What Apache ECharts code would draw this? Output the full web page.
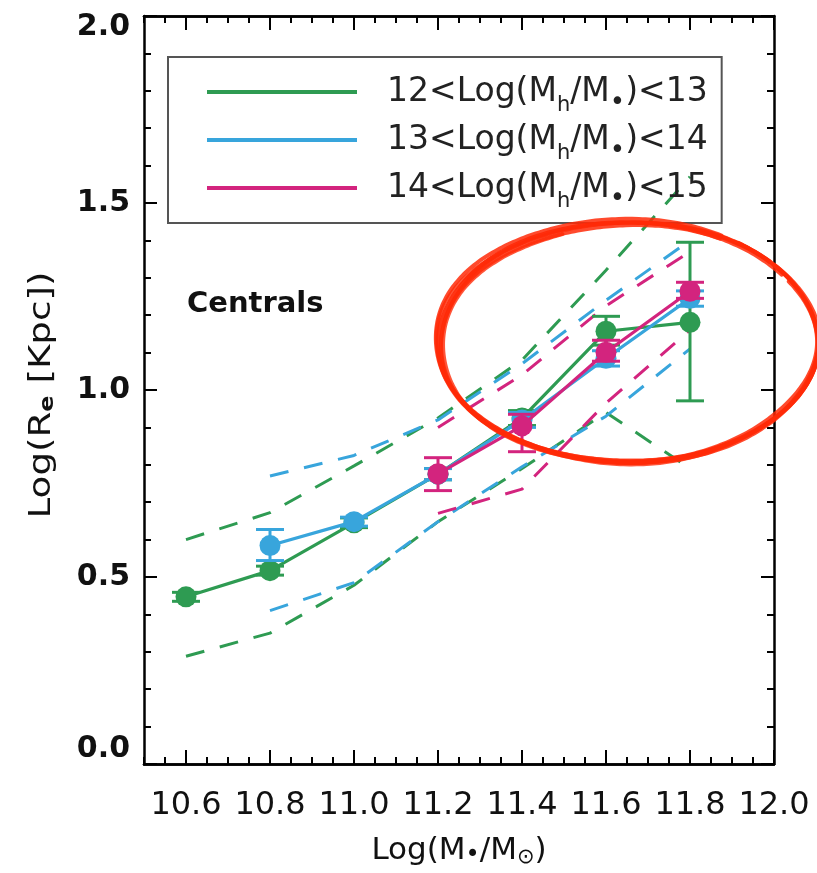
<!DOCTYPE html>
<html>
<head>
<meta charset="utf-8">
<script src="https://cdn.jsdelivr.net/npm/echarts@6/dist/echarts.min.js"></script>
<style>
  html, body { margin: 0; padding: 0; background: #ffffff; }
  #chart { width: 817px; height: 873px; }
</style>
</head>
<body>
<div id="chart"></div>
<script>
// Stellar-mass bins, Log(M*/Msun)
const massBins = [10.6, 10.8, 11.0, 11.2, 11.4, 11.6, 11.8];

// Axis tick labels
const xTickValues = [10.6, 10.8, 11.0, 11.2, 11.4, 11.6, 11.8, 12.0];
const yTickValues = [0.0, 0.5, 1.0, 1.5, 2.0];

// Halo-mass bin names
const groupNames = ['12<Log(Mh/M*)<13', '13<Log(Mh/M*)<14', '14<Log(Mh/M*)<15'];

// 12 < Log(Mh) < 13 : all seven mass bins
const greenMean    = [0.447, 0.517, 0.645, 0.775, 0.925, 1.157, 1.181];
const greenErrLow  = [0.435, 0.505, 0.632, 0.760, 0.905, 1.120, 0.971];
const greenErrHigh = [0.459, 0.529, 0.658, 0.790, 0.945, 1.197, 1.395];
const greenUpper   = [0.600, 0.672, 0.797, 0.925, 1.080, 1.320, 1.570];
const greenLower   = [0.288, 0.350, 0.478, 0.648, 0.790, 0.940, 0.790];

// 13 < Log(Mh) < 14 : bins 10.8 .. 11.8
const blueMean    = [0.584, 0.648, 0.775, 0.920, 1.085, 1.245];
const blueErrLow  = [0.544, 0.636, 0.760, 0.900, 1.064, 1.224];
const blueErrHigh = [0.627, 0.660, 0.790, 0.940, 1.105, 1.265];
const blueUpper   = [0.770, 0.825, 0.920, 1.070, 1.240, 1.400];
const blueLower   = [0.410, 0.485, 0.648, 0.795, 0.930, 1.110];

// 14 < Log(Mh) < 15 : bins 11.2 .. 11.8
const magMean    = [0.776, 0.904, 1.101, 1.264];
const magErrLow  = [0.731, 0.835, 1.077, 1.245];
const magErrHigh = [0.819, 0.935, 1.133, 1.288];
const magUpper   = [0.900, 1.040, 1.225, 1.370];
const magLower   = [0.670, 0.735, 0.965, 1.160];

const COLORS = ['#2e9b52', '#38a5dc', '#d3247e'];
const FONT = 'DejaVu Sans';

const chart = echarts.init(document.getElementById('chart'), null, { renderer: 'canvas' });

const pairs = (xs, ys) => xs.map((x, i) => [x, ys[i]]);

// minor x ticks every 0.05 between the labelled ones
const xMinorValues = [];
for (let i = 0; i <= 30; i++) {
  const v = Number((10.5 + i * 0.05).toFixed(2));
  if (!xTickValues.some(t => Math.abs(t - v) < 1e-6)) xMinorValues.push(v);
}

function meanSeries(name, xs, ys, color, z) {
  return {
    name, type: 'line', z, data: pairs(xs, ys), color,
    symbol: 'circle', symbolSize: 21, showSymbol: true,
    lineStyle: { color, width: 3.2 },
    itemStyle: { color },
    emphasis: { disabled: true }, animation: false
  };
}

function scatterBand(name, xs, ys, color, z) {
  return {
    name, type: 'line', z, data: pairs(xs, ys), color,
    symbol: 'none',
    lineStyle: { color, width: 3, type: [19, 16] },
    itemStyle: { color },
    emphasis: { disabled: true }, animation: false
  };
}

function errorBars(xs, lo, hi, color, z) {
  return {
    type: 'custom', z, silent: true, animation: false,
    data: xs.map((x, i) => [x, lo[i], hi[i]]),
    encode: { x: 0, y: [1, 2] },
    renderItem(params, api) {
      const x = api.value(0);
      const pLo = api.coord([x, api.value(1)]);
      const pHi = api.coord([x, api.value(2)]);
      const half = 14;
      const style = { stroke: color, lineWidth: 3 };
      return {
        type: 'group',
        children: [
          { type: 'line', shape: { x1: pLo[0], y1: pLo[1], x2: pHi[0], y2: pHi[1] }, style },
          { type: 'line', shape: { x1: pLo[0] - half, y1: pLo[1], x2: pLo[0] + half, y2: pLo[1] }, style },
          { type: 'line', shape: { x1: pHi[0] - half, y1: pHi[1], x2: pHi[0] + half, y2: pHi[1] }, style }
        ]
      };
    }
  };
}

const blueX = massBins.slice(1);
const magX = massBins.slice(3);

const series = [
  meanSeries(groupNames[0], massBins, greenMean, COLORS[0], 4),
  meanSeries(groupNames[1], blueX, blueMean, COLORS[1], 6),
  meanSeries(groupNames[2], magX, magMean, COLORS[2], 8),
  scatterBand(groupNames[0], massBins, greenUpper, COLORS[0], 2),
  scatterBand(groupNames[0], massBins, greenLower, COLORS[0], 2),
  scatterBand(groupNames[1], blueX, blueUpper, COLORS[1], 2),
  scatterBand(groupNames[1], blueX, blueLower, COLORS[1], 2),
  scatterBand(groupNames[2], magX, magUpper, COLORS[2], 2),
  scatterBand(groupNames[2], magX, magLower, COLORS[2], 2),
  errorBars(massBins, greenErrLow, greenErrHigh, COLORS[0], 3),
  errorBars(blueX, blueErrLow, blueErrHigh, COLORS[1], 5),
  errorBars(magX, magErrLow, magErrHigh, COLORS[2], 7)
];

const legendMarkup = {};
legendMarkup[groupNames[0]] = '12<Log(M{sub|h}/M{dot|•})<13';
legendMarkup[groupNames[1]] = '13<Log(M{sub|h}/M{dot|•})<14';
legendMarkup[groupNames[2]] = '14<Log(M{sub|h}/M{dot|•})<15';

const subStyle = { fontFamily: FONT, fontSize: 21, lineHeight: 12, verticalAlign: 'bottom', color: '#222' };
const dotStyle = { fontFamily: FONT, fontSize: 26, lineHeight: 14, verticalAlign: 'bottom', color: '#222' };

const axisLineStyle = { color: '#000', width: 2.5 };
const tickLineStyle = { color: '#000', width: 2 };

function xAxisDef(position, values, len, withLabels) {
  const ax = {
    type: 'value', position, min: 10.5, max: 12.0,
    axisLine: { show: true, onZero: false, lineStyle: axisLineStyle },
    axisTick: { show: true, inside: true, length: len, customValues: values, lineStyle: tickLineStyle },
    axisLabel: { show: false },
    splitLine: { show: false }
  };
  if (withLabels) {
    ax.axisLabel = {
      show: true, customValues: values, margin: 26,
      formatter: v => v.toFixed(1),
      fontFamily: FONT, fontSize: 32, color: '#111'
    };
    ax.name = 'Log(M{dot|•}/M{sun|⊙})';
    ax.nameLocation = 'middle';
    ax.nameGap = 70;
    ax.nameTextStyle = {
      fontFamily: FONT, fontSize: 31, color: '#111', lineHeight: 34,
      rich: {
        dot: { fontFamily: FONT, fontSize: 24, lineHeight: 14, verticalAlign: 'bottom', color: '#111' },
        sun: { fontFamily: FONT, fontSize: 21, lineHeight: 14, verticalAlign: 'bottom', color: '#111' }
      }
    };
  }
  return ax;
}

function yAxisDef(position, withLabels) {
  const ax = {
    type: 'value', position, min: 0, max: 2.0, interval: 0.5,
    axisLine: { show: true, onZero: false, lineStyle: axisLineStyle },
    axisTick: { show: true, inside: true, length: 13, lineStyle: tickLineStyle },
    minorTick: { show: true, splitNumber: 5, length: 7, lineStyle: tickLineStyle },
    axisLabel: { show: false },
    splitLine: { show: false }
  };
  if (withLabels) {
    ax.axisLabel = {
      show: true, margin: 14,
      // end labels sit inside the frame
      formatter: v => {
        const t = yTickValues.find(u => Math.abs(u - v) < 1e-6);
        const s = t.toFixed(1);
        if (t === yTickValues[yTickValues.length - 1]) return '{hi|' + s + '}';
        if (t === yTickValues[0]) return '{lo|' + s + '}';
        return s;
      },
      fontFamily: FONT, fontSize: 30, fontWeight: 'bold', color: '#111',
      rich: {
        hi: { fontFamily: FONT, fontSize: 30, fontWeight: 'bold', color: '#111', padding: [22, 0, 0, 0] },
        lo: { fontFamily: FONT, fontSize: 30, fontWeight: 'bold', color: '#111', padding: [0, 0, 30, 0] }
      }
    };
  }
  return ax;
}

// hand-drawn highlight loop around the high-mass end
function loop(cx, cy, rx, ry, rotDeg, a0, a1, jitter, phase) {
  const pts = [];
  const rot = rotDeg * Math.PI / 180;
  for (let a = a0; a <= a1; a += 2) {
    const t = a * Math.PI / 180;
    const w = 1 + jitter * Math.sin(t * 5.0 + phase);
    const ex = rx * w * Math.cos(t), ey = ry * w * Math.sin(t);
    pts.push([cx + ex * Math.cos(rot) - ey * Math.sin(rot), cy + ex * Math.sin(rot) + ey * Math.cos(rot)]);
  }
  return pts;
}
const loopStrokes = [
  [628, 342, 190, 120, 0, -40, 318, 0.004, 0.0, 4.5, 0.95],
  [628, 343, 188, 118, -1, -30, 326, 0.006, 1.3, 4, 0.85],
  [627, 341, 192, 122, 0.8, -55, 300, 0.005, 2.1, 4, 0.85],
  [629, 343, 189, 121, -0.5, -22, 335, 0.007, 0.7, 3.5, 0.8],
  [627, 342, 191, 119, 0.4, 5, 300, 0.006, 2.8, 3.5, 0.8],
  [628, 344, 186, 119, -1.2, 60, 250, 0.006, 1.9, 4, 0.8]
];
const loopGraphics = loopStrokes.map(s => ({
  type: 'polyline', z: 100, silent: true,
  shape: { points: loop(s[0], s[1], s[2], s[3], s[4], s[5], s[6], s[7], s[8]), smooth: 0.3 },
  style: { stroke: '#ff2a08', lineWidth: s[9], fill: null, lineCap: 'round', opacity: s[10] }
}));

const option = {
  backgroundColor: '#ffffff',
  animation: false,
  grid: { left: 144, top: 16, width: 630, height: 750, containLabel: false },
  xAxis: [
    xAxisDef('bottom', xTickValues, 14, true),
    xAxisDef('bottom', xMinorValues, 7, false),
    xAxisDef('top', xTickValues, 14, false),
    xAxisDef('top', xMinorValues, 7, false)
  ],
  yAxis: [
    yAxisDef('left', true),
    yAxisDef('right', false)
  ],
  legend: {
    data: groupNames,
    orient: 'vertical',
    left: 168, top: 57,
    padding: [11, 14, 11, 39],
    itemGap: 0,
    itemWidth: 150, itemHeight: 4,
    icon: 'rect',
    borderColor: '#555', borderWidth: 2,
    selectedMode: false,
    formatter: name => legendMarkup[name],
    textStyle: {
      fontFamily: FONT, fontSize: 33, color: '#222', lineHeight: 48,
      padding: [0, 0, 0, 25],
      rich: { sub: subStyle, dot: dotStyle }
    }
  },
  graphic: [
    {
      type: 'text', left: 187, top: 290, z: 50,
      style: { text: 'Centrals', font: 'bold 29px "DejaVu Sans"', fill: '#111' }
    },
    {
      // y-axis title, stretched along its length
      type: 'text', z: 50, x: 42, y: 395, rotation: Math.PI / 2, scaleX: 1.2,
      style: {
        text: 'Log(R{sub|e} [Kpc])', font: '31px "DejaVu Sans"', fill: '#111',
        align: 'center', verticalAlign: 'middle',
        rich: { sub: { font: 'bold 20px "DejaVu Sans"', fill: '#111', lineHeight: 14, verticalAlign: 'bottom' } }
      }
    }
  ].concat(loopGraphics),
  series
};

chart.setOption(option);
</script>
</body>
</html>
